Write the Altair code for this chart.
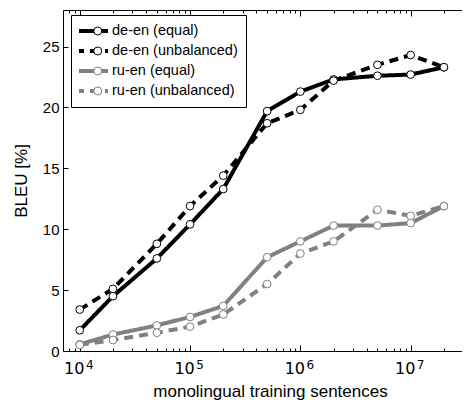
import altair as alt
import pandas as pd

sentences = [1e4, 2e4, 5e4, 1e5, 2e5, 5e5, 1e6, 2e6, 5e6, 1e7, 2e7]
series_names = ["de-en (equal)", "de-en (unbalanced)", "ru-en (equal)", "ru-en (unbalanced)"]
de_en_equal = [1.7, 4.5, 7.6, 10.4, 13.3, 19.7, 21.3, 22.3, 22.6, 22.7, 23.3]
de_en_unbalanced = [3.4, 5.1, 8.8, 11.9, 14.4, 18.7, 19.8, 22.2, 23.5, 24.3, 23.3]
ru_en_equal = [0.55, 1.35, 2.1, 2.8, 3.7, 7.7, 9.0, 10.3, 10.3, 10.5, 11.9]
ru_en_unbalanced = [0.5, 0.9, 1.5, 2.0, 3.0, 5.5, 8.0, 9.0, 11.6, 11.1, 11.9]

x_major_ticks = [1e4, 1e5, 1e6, 1e7]
x_label_base = "10"
x_label_exponents = ["4", "5", "6", "7"]
y_ticks = [0, 5, 10, 15, 20, 25]
x_domain = [7050, 2.92e7]
y_domain = [0, 28]
x_minor_ticks = [m * 10 ** e for e in range(3, 8) for m in range(2, 10)
                 if x_domain[0] <= m * 10 ** e <= x_domain[1]]

rows = []
for name, vals in zip(series_names, [de_en_equal, de_en_unbalanced, ru_en_equal, ru_en_unbalanced]):
    for s, v in zip(sentences, vals):
        rows.append({"sentences": s, "bleu": v, "series": name, "series_p": name})
df = pd.DataFrame(rows)

exp_expr = " : ".join(
    f"datum.value == {int(v)} ? '{l}'" for v, l in zip(x_major_ticks, x_label_exponents)
) + " : ''"

FONT = "Liberation Sans"
xscale = alt.Scale(type="log", domain=x_domain, nice=False)
yscale = alt.Scale(domain=y_domain, nice=False, zero=False)
colors = ["black", "black", "#808080", "#808080"]

axis_common = dict(grid=False, domainColor="black", tickColor="black", domainWidth=1, tickWidth=1)

x_axis_bottom_major = alt.Axis(
    orient="bottom", values=x_major_ticks, labelExpr=f"'{x_label_base}'",
    tickSize=alt.ExprRef("-6"), labelPadding=28, labelBaseline="alphabetic",
    labelOffset=-6, labelFont="DejaVu Sans", labelFontSize=16, labelColor="black",
    title="monolingual training sentences", titleFont=FONT, titleFontSize=17,
    titleFontWeight="normal", titleColor="black", titleX=207, titleY=45.5,
    titleBaseline="alphabetic", titleAlign="center", **axis_common)
x_axis_exponents = alt.Axis(
    orient="bottom", values=x_major_ticks, labelExpr=exp_expr, ticks=False, tickSize=0,
    domain=False, labelPadding=17, labelBaseline="alphabetic", labelOffset=9.5,
    labelFont="DejaVu Sans", labelFontSize=12, labelColor="black", title=None,
    grid=False)
x_axis_bottom_minor = alt.Axis(
    orient="bottom", values=x_minor_ticks, labels=False, domain=False,
    tickSize=alt.ExprRef("-3"), title=None, **axis_common)
x_axis_top_major = alt.Axis(
    orient="top", values=x_major_ticks, labels=False, domain=True,
    tickSize=alt.ExprRef("-6"), title=None, **axis_common)
x_axis_top_minor = alt.Axis(
    orient="top", values=x_minor_ticks, labels=False, domain=False,
    tickSize=alt.ExprRef("-3"), title=None, **axis_common)
y_axis = alt.Axis(
    orient="left", values=y_ticks, tickSize=alt.ExprRef("-5"), labelPadding=9,
    labelFont=FONT, labelFontSize=15, labelColor="black",
    title="BLEU [%]", titleFont=FONT, titleFontSize=17, titleFontWeight="normal",
    titleColor="black", titleX=-41.5, titleY=170.5, titleAngle=270,
    titleAlign="center", titleBaseline="middle", **axis_common)

legend_common = dict(orient="none", legendY=5, padding=8, clipHeight=16, rowPadding=4,
                     labelFont=FONT, labelFontSize=14.5, labelColor="black", title=None)
line_legend = alt.Legend(legendX=8, strokeColor="black", fillColor="white",
                         symbolType="stroke", symbolSize=1089, symbolStrokeWidth=4,
                         labelOffset=2, symbolOffset=-6, **legend_common)

base = alt.Chart(df)

lines = base.mark_line(strokeWidth=4, strokeJoin="round").encode(
    x=alt.X("sentences:Q", scale=xscale, axis=x_axis_bottom_major),
    y=alt.Y("bleu:Q", scale=yscale, axis=y_axis),
    color=alt.Color("series:N", scale=alt.Scale(range=colors), legend=line_legend),
    strokeDash=alt.StrokeDash("series:N",
                              scale=alt.Scale(range=[[1, 0], [9, 6], [1, 0], [9, 6]]),
                              legend=line_legend),
)

points = base.mark_point(filled=True, fill="white", strokeWidth=1, size=60, opacity=1).encode(
    x=alt.X("sentences:Q", scale=xscale, axis=x_axis_bottom_minor),
    y=alt.Y("bleu:Q", scale=yscale, axis=None),
    stroke=alt.Stroke("series_p:N", scale=alt.Scale(range=colors),
                      legend=alt.Legend(legendX=19.5, symbolType="circle", symbolSize=64,
                                        symbolStrokeWidth=1, symbolFillColor="white",
                                        labelExpr="''", **legend_common)),
)


def hidden_layer(axis):
    return base.mark_point(opacity=0).encode(
        x=alt.X("sentences:Q", scale=xscale, axis=axis),
        y=alt.Y("bleu:Q", scale=yscale, axis=None),
    )


chart = alt.layer(
    lines, points,
    hidden_layer(x_axis_top_major), hidden_layer(x_axis_top_minor),
    hidden_layer(x_axis_exponents),
).resolve_axis(
    x="independent", y="independent"
).properties(
    width=399, height=341,
    autosize=alt.AutoSizeParams(type="none"),
    padding={"left": 55, "top": 2, "right": 0, "bottom": 49},
).configure_view(stroke="transparent")

chart.save("out.html", embed_options={"renderer": "svg", "actions": False})
